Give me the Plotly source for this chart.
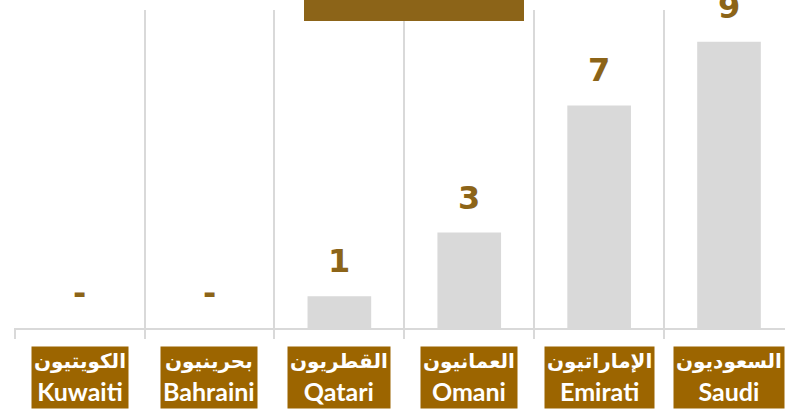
import plotly.graph_objects as go

categories_en = ["Kuwaiti", "Bahraini", "Qatari", "Omani", "Emirati", "Saudi"]
categories_ar = ["الكويتيون", "بحرينيون", "القطريون", "العمانيون", "الإماراتيون", "السعوديون"]
values = [0, 0, 1, 3, 7, 9]
value_labels = ["-" if v == 0 else str(v) for v in values]

BAR = "#D9D9D9"
GRID = "#D9D9D9"
LABEL_BG = "#9C6500"
GOLD = "#8C6418"

x_idx = list(range(len(values)))

fig = go.Figure()
fig.add_trace(go.Bar(
    x=x_idx, y=values, width=0.49,
    marker=dict(color=BAR, line=dict(width=0)),
    hoverinfo="skip",
))

annotations = []
for i, (v, t) in enumerate(zip(values, value_labels)):
    annotations.append(dict(
        x=i, y=v, xref="x", yref="y", text=t, showarrow=False,
        yanchor="bottom", yshift=14,
        font=dict(family="DejaVu Sans", size=32, color=GOLD, weight="bold"),
    ))
for i, (ar, en) in enumerate(zip(categories_ar, categories_en)):
    annotations.append(dict(
        x=i, y=0, xref="x", yref="paper", yanchor="top", yshift=-18,
        text=(f'<span style="font-family:DejaVu Sans;font-size:20px"><b>{ar}</b></span>'
              f"<br><b>{en}</b>"),
        showarrow=False,
        bgcolor=LABEL_BG, borderpad=2,
        font=dict(family="Lato, DejaVu Sans", size=25, color="white"),
    ))

fig.update_layout(
    width=785, height=409,
    margin=dict(l=14, r=0, t=10, b=81),
    paper_bgcolor="white", plot_bgcolor="white",
    showlegend=False,
    annotations=annotations,
    shapes=[dict(
        type="rect", xref="paper", yref="paper",
        x0=(304 - 14) / 771, x1=(524 - 14) / 771,
        y0=(328 - 21) / 318, y1=1.1,
        fillcolor=GOLD, line=dict(width=0), layer="above",
    )],
)
fig.update_xaxes(
    range=[-0.505, 5.431],
    tickvals=[-0.5, 0.5, 1.5, 2.5, 3.5, 4.5],
    showticklabels=False,
    showgrid=True, gridcolor=GRID, gridwidth=2,
    ticks="outside", ticklen=9, tickcolor=GRID, tickwidth=2,
    showline=True, linecolor=GRID, linewidth=2,
    zeroline=False,
)
fig.update_yaxes(
    range=[0, 10], showgrid=False, showticklabels=False,
    zeroline=False, showline=False, ticks="",
)

fig.write_html("out.html")
